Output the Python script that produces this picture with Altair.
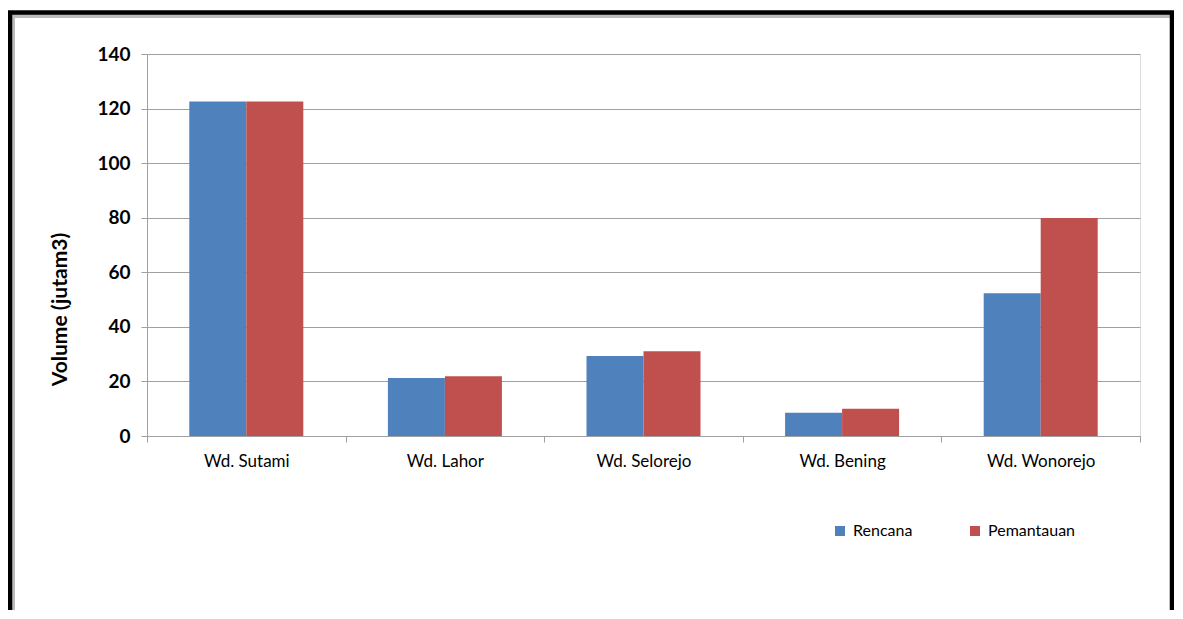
import altair as alt
import pandas as pd

categories = ["Wd. Sutami", "Wd. Lahor", "Wd. Selorejo", "Wd. Bening", "Wd. Wonorejo"]
series = ["Rencana", "Pemantauan"]
rencana = [122.6, 21.3, 29.3, 8.5, 52.3]
pemantauan = [122.6, 21.9, 31.1, 10.0, 79.9]
y_ticks = [0, 20, 40, 60, 80, 100, 120, 140]
colors = ["#4F81BD", "#C0504D"]

rows = []
for c, r, p in zip(categories, rencana, pemantauan):
    rows.append({"cat": c, "series": series[0], "value": r})
    rows.append({"cat": c, "series": series[1], "value": p})
df = pd.DataFrame(rows)

W, H = 993, 382
FONT = "Lato"

bars = alt.Chart(df).mark_bar().encode(
    x=alt.X("cat:N", sort=categories,
            scale=alt.Scale(paddingInner=0, paddingOuter=0),
            axis=alt.Axis(title=None, labelAngle=0, tickBand="extent", tickSize=6,
                          labelPadding=11, labelFontSize=17, labelFont=FONT,
                          labelColor="#000000", domainColor="#A0A0A0", tickColor="#A0A0A0",
                          grid=False)),
    xOffset=alt.XOffset("series:N", sort=series,
                        scale=alt.Scale(paddingInner=0, paddingOuter=0.742)),
    y=alt.Y("value:Q", scale=alt.Scale(domain=[0, 140], nice=False),
            axis=alt.Axis(title="Volume (jutam3)", values=y_ticks, tickSize=6,
                          labelPadding=11, labelFontSize=19, labelFontWeight="bold",
                          labelFont=FONT, labelColor="#000000",
                          titleFont=FONT, titleFontSize=21, titleFontWeight="bold",
                          titleColor="#000000", titleAngle=-90, titleX=-87, titleY=255,
                          titleAlign="center", titleBaseline="middle",
                          domainColor="#A0A0A0", tickColor="#A0A0A0",
                          gridColor="#A0A0A0", gridWidth=1)),
    color=alt.Color("series:N", sort=series,
                    scale=alt.Scale(domain=series, range=colors),
                    legend=alt.Legend(title=None, orient="none", direction="horizontal",
                                      legendX=685, legendY=469, symbolType="square",
                                      symbolSize=100, symbolStrokeWidth=0,
                                      labelFont=FONT, labelFontSize=16,
                                      labelColor="#000000", labelOffset=5,
                                      columnPadding=54, padding=0)),
)

frame_df = pd.DataFrame({"k": [0]})
shadow = alt.Chart(frame_df).mark_rect(fill="transparent", stroke="#BBBBBB",
                                       strokeWidth=4, clip=False).encode(
    x=alt.value(-134), x2=alt.value(1028), y=alt.value(-38), y2=alt.value(620))
frame = alt.Chart(frame_df).mark_rect(fill="transparent", stroke="#000000",
                                      strokeWidth=4.5, clip=False).encode(
    x=alt.value(-137), x2=alt.value(1025), y=alt.value(-41.5), y2=alt.value(620))

chart = alt.layer(shadow, frame, bars).properties(
    width=W, height=H,
    autosize=alt.AutoSizeParams(type="none"),
    padding={"left": 139, "top": 46, "right": 34, "bottom": 174},
).configure_view(strokeWidth=0).configure(background="white")

chart.save("out.html", embed_options={"renderer": "svg", "actions": False})
